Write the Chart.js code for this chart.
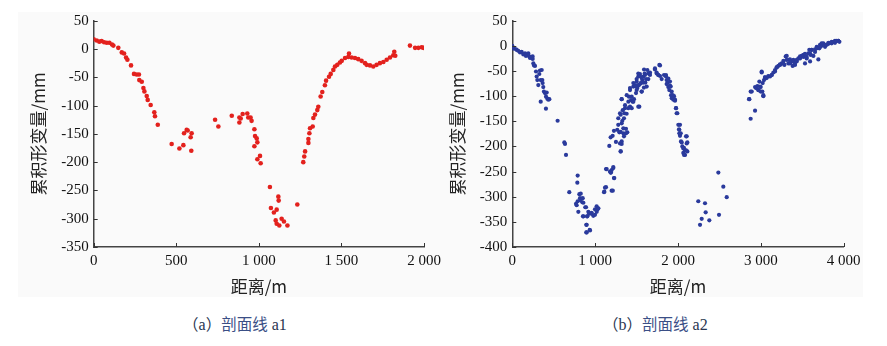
<!DOCTYPE html>
<html>
<head>
<meta charset="utf-8">
<script src="https://cdn.jsdelivr.net/npm/chart.js@4.4.1/dist/chart.umd.min.js"></script>
<style>
  html,body{margin:0;padding:0;background:#fff;}
  body{width:887px;height:346px;position:relative;overflow:hidden;}
  #bg{position:absolute;left:18px;top:12px;width:845px;height:285px;background:#fafafa;}
  .wrap{position:absolute;top:0;}
  .cap{position:absolute;top:312px;font-size:15.5px;white-space:nowrap;color:#2a3550;font-family:"Noto Sans CJK SC",sans-serif;}
  .cap .lat{font-family:"Liberation Serif","Times New Roman",serif;font-size:16px;}
  .cap .cjk{color:#3b4f86;}
</style>
</head>
<body>
<div id="bg"></div>
<div class="wrap" style="left:0;width:452px;height:300px;"><canvas id="ca" width="452" height="300"></canvas></div>
<div class="wrap" style="left:440px;width:447px;height:300px;"><canvas id="cb" width="447" height="300"></canvas></div>
<div class="cap" id="capA" style="left:183px;"><span>（</span><span class="lat">a</span><span>）</span><span class="cjk">剖面线</span><span class="lat"> a1</span></div>
<div class="cap" id="capB" style="left:603px;"><span>（</span><span class="lat">b</span><span>）</span><span class="cjk">剖面线</span><span class="lat"> a2</span></div>
<script>
// ---------- DATA ----------
const xTitle = '距离/m';
const yTitle = '累积形变量/mm';

// Profile a1 (red)
const a1X = [0,18,34,48,63,79,95,111,119,149,170,184,196,204,226,244,260,274,276,291,301,307,321,327,345,367,371,388,
  472,519,543,547,563,569,587,593,591,735,755,836,882,882,890,902,930,936,950,956,973,977,973,987,991,991,1007,1011,
  1067,1073,1091,1108,1102,1108,1118,1120,1124,1138,1152,1173,1233,
  1269,1275,1280,1300,1300,1306,1310,1326,1330,1340,1354,1360,1374,1384,1400,1407,1425,1435,1451,1461,1475,1491,1502,1522,1542,1546,
  1562,1582,1602,1622,1643,1653,1673,1693,1713,1733,1754,1774,1794,1814,1820,1826,1915,1946,1966,1986,1996];
const a1Y = [17,15,13,14,12,11,11,8,6,2,-6,-8,-15,-19,-29,-44,-45,-45,-55,-58,-69,-75,-83,-90,-99,-112,-119,-134,
  -168,-176,-170,-149,-143,-144,-156,-149,-180,-125,-137,-118,-121,-130,-123,-115,-114,-121,-121,-127,-142,-154,-172,-158,-165,-195,-189,-202,
  -244,-281,-289,-284,-303,-309,-261,-268,-312,-300,-305,-312,-275,
  -200,-190,-181,-166,-159,-149,-140,-137,-122,-116,-108,-102,-84,-76,-64,-56,-49,-44,-37,-31,-28,-24,-21,-16,-14,-8,
  -15,-16,-18,-21,-25,-28,-29,-31,-28,-25,-23,-19,-15,-11,-5,-12,6,2,2,3,2];

// Profile a2 (blue)
const a2X = [0,12,20,44,53,72,93,113,133,153,165,173,193,205,214,221,245,246,254,262,274,286,294,302,314,326,334,342,355,362,366,374,382,394,407,415,423,435,447,343,406,
  547,628,636,648,688,785,789,809,817,769,777,789,797,821,826,845,850,853,858,858,881,890,893,893,898,898,901,906,918,926,934,938,958,958,978,998,998,1018,1019,1030,1039,
  1107,1111,1119,1131,1131,1139,1179,1187,1191,1199,1199,1213,1219,1219,1227,1231,
  1171,1187,1211,1227,1251,1267,1279,1292,1300,1308,1320,1279,1300,1320,1328,1340,1348,1352,1360,1372,1380,1388,1400,1408,1421,1433,1441,1453,1461,1469,1481,1493,1501,1509,1521,1529,1533,1541,1549,1561,1569,1581,1589,1598,1606,1614,1622,1630,1642,1654,1662,
  1590,1722,1783,1521,1541,1501,1562,1602,1642,1662,1461,1481,1521,1549,1582,1421,1501,1562,1381,1441,1401,1461,1320,1361,1421,1521,1333,1308,1348,1320,1340,1308,1372,1320,1308,
  1722,1742,1763,1775,1783,1803,1831,1855,1863,1875,1883,1895,1903,1916,1924,1936,1944,1952,1964,1976,1984,2004,2012,2016,2024,2036,2052,2064,2072,2085,2097,2105,2113,
  1743,1763,1855,1883,1903,1863,1912,1924,1936,1944,1964,1976,1992,2024,2016,2033,2045,2105,2113,2064,2097,2085,2073,
  2245,2266,2286,2326,2334,2378,2487,2495,2547,2588,
  2857,2861,2877,2877,2890,2930,2930,2942,2958,2970,2970,2982,2990,2998,2998,3010,3010,3018,3022,3030,3030,3038,3050,3050,3070,3090,3090,3111,3131,3131,3151,3171,3171,3191,3191,3211,3231,3231,3252,3272,3272,3284,3300,3312,3312,3332,3344,3352,3352,3372,3384,3392,3392,3412,3412,3433,3433,3453,3473,3473,3493,3513,3513,3533,3533,3553,3553,3573,3585,3594,3594,3602,3614,3614,3634,3654,3654,3674,3674,3694,3706,3714,3714,3734,3734,3754,3775,3775,3795,3815,3815,3835,3855,3855,3875,3895,3895,3915,3935,3935,3948];
const a2Y = [0,-5,-5,-7,-8,-10,-13,-12,-17,-15,-20,-17,-15,-21,-24,-23,-21,-26,-35,-39,-40,-51,-61,-68,-78,-56,-49,-68,-48,-68,-74,-82,-91,-94,-101,-93,-105,-107,-106,-111,-125,
  -149,-192,-195,-217,-291,-272,-258,-295,-303,-314,-317,-309,-330,-307,-294,-311,-303,-339,-312,-339,-321,-321,-356,-371,-356,-371,-339,-339,-330,-334,-366,-367,-332,-334,-338,-325,-336,-319,-330,-325,-323,
  -291,-290,-282,-245,-281,-245,-250,-252,-252,-288,-247,-288,-243,-241,-263,-263,
  -199,-182,-179,-169,-191,-167,-157,-172,-194,-210,-195,-144,-134,-106,-149,-174,-180,-134,-124,-165,-135,-172,-124,-101,-84,-108,-124,-111,-81,-106,-78,-94,-71,-84,-61,-78,-121,-56,-75,-91,-68,-61,-83,-55,-73,-66,-81,-48,-66,-55,-53,
  -47,-45,-39,-55,-60,-66,-64,-58,-55,-58,-74,-80,-78,-74,-73,-88,-88,-91,-98,-101,-111,-111,-106,-118,-121,-121,-128,-137,-144,-154,-164,-171,-174,-190,-210,
  -47,-53,-58,-38,-60,-66,-58,-61,-68,-73,-82,-88,-79,-98,-104,-101,-107,-100,-107,-124,-134,-157,-166,-174,-179,-190,-200,-213,-203,-208,-180,-194,-210,
  -55,-58,-58,-65,-71,-76,-81,-91,-98,-104,-109,-124,-134,-157,-167,-174,-192,-180,-192,-204,-208,-217,-217,
  -309,-356,-344,-313,-331,-347,-252,-336,-280,-301,
  -106,-106,-91,-145,-91,-129,-82,-84,-80,-88,-88,-71,-81,-82,-91,-51,-53,-91,-74,-100,-98,-68,-62,-64,-64,-60,-61,-61,-58,-58,-53,-48,-51,-43,-43,-40,-37,-38,-35,-30,-35,-38,-21,-28,-20,-35,-28,-35,-27,-31,-40,-28,-31,-36,-38,-31,-28,-25,-21,-25,-20,-22,-18,-16,-35,-25,-22,-15,-8,-15,-31,-18,-8,-8,-20,-7,-12,-2,-5,-27,-5,2,-2,0,5,5,-2,2,2,4,6,6,5,8,8,6,10,10,10,10,8];

const xTicksA = [0,500,1000,1500,2000];
const xTickLabelsA = ['0','500','1 000','1 500','2 000'];
const yTicksA = [50,0,-50,-100,-150,-200,-250,-300,-350];
const yTickLabelsA = ['50','0','-50','-100','-150','-200','-250','-300','-350'];

const xTicksB = [0,1000,2000,3000,4000];
const xTickLabelsB = ['0','1 000','2 000','3 000','4 000'];
const yTicksB = [50,0,-50,-100,-150,-200,-250,-300,-350,-400];
const yTickLabelsB = ['50','0','-50','-100','-150','-200','-250','-300','-350','-400'];

// ---------- CHART ----------
const inwardTicks = {
  id: 'inwardTicks',
  afterDraw(chart) {
    const {ctx, chartArea, scales} = chart;
    ctx.save();
    ctx.strokeStyle = '#333';
    ctx.lineWidth = 1;
    ctx.beginPath();
    scales.x.ticks.forEach(t => {
      const px = Math.round(scales.x.getPixelForValue(t.value)) + 0.5;
      ctx.moveTo(px, chartArea.bottom);
      ctx.lineTo(px, chartArea.bottom - 4);
    });
    scales.y.ticks.forEach(t => {
      const py = Math.round(scales.y.getPixelForValue(t.value)) + 0.5;
      ctx.moveTo(chartArea.left, py);
      ctx.lineTo(chartArea.left + 4, py);
    });
    ctx.stroke();
    ctx.restore();
  }
};

function makeChart(id, xs, ys, color, radius, xr, yr, xT, xL, yT, yL, pad, yAxisW) {
  const pts = xs.map((x, i) => ({x, y: ys[i]}));
  return new Chart(document.getElementById(id), {
    type: 'scatter',
    data: {datasets: [{data: pts, backgroundColor: color, borderColor: color, pointRadius: radius, pointBorderWidth: 0, pointHoverRadius: radius}]},
    options: {
      responsive: false, animation: false, devicePixelRatio: 1,
      layout: {padding: pad},
      plugins: {legend: {display: false}, tooltip: {enabled: false}},
      events: [],
      scales: {
        x: {
          type: 'linear', min: xr[0], max: xr[1],
          afterBuildTicks: s => { s.ticks = xT.map(v => ({value: v})); },
          afterFit: s => { s.height = 53; },
          grid: {display: false, drawTicks: false},
          border: {display: true, color: '#444', width: 1.5},
          ticks: {padding: 5, color: '#111', font: {family: '"Liberation Serif", "Times New Roman", serif', size: 15},
                  callback: (v, i) => xL[i], maxRotation: 0, autoSkip: false},
          title: {display: true, text: xTitle, color: '#222', padding: {top: 0, bottom: 3},
                  font: {family: '"Noto Sans CJK SC", sans-serif', size: 17, lineHeight: 1.2}}
        },
        y: {
          type: 'linear', min: yr[0], max: yr[1],
          afterBuildTicks: s => { s.ticks = yT.map(v => ({value: v})); },
          afterFit: s => { s.width = yAxisW; },
          grid: {display: false, drawTicks: false},
          border: {display: true, color: '#444', width: 1.5},
          ticks: {padding: 5, color: '#111', font: {family: '"Liberation Serif", "Times New Roman", serif', size: 15},
                  callback: (v, i) => yL[i], autoSkip: false},
          title: {display: true, text: yTitle, color: '#222', padding: {top: 0, bottom: 0},
                  font: {family: '"Noto Sans CJK SC", sans-serif', size: 17, lineHeight: 1.2}}
        }
      }
    },
    plugins: [inwardTicks]
  });
}

makeChart('ca', a1X, a1Y, '#e3211d', 2.3, [0, 2000], [-350, 50], xTicksA, xTickLabelsA, yTicksA, yTickLabelsA,
  {left: 28, right: 28, top: 20.7, bottom: 0}, 65.7);
makeChart('cb', a2X, a2Y, '#2a3a9c', 2.1, [0, 4000], [-400, 50], xTicksB, xTickLabelsB, yTicksB, yTickLabelsB,
  {left: 7.8, right: 43.3, top: 20.7, bottom: 0}, 64.5);
</script>
</body>
</html>
